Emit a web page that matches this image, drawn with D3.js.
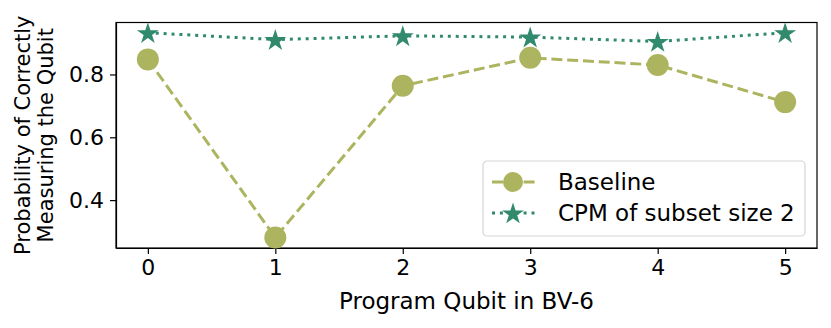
<!doctype html>
<html>
<head>
  <meta charset="utf-8" />
  <script src="https://cdnjs.cloudflare.com/ajax/libs/d3/7.8.5/d3.min.js"></script>
  <style>
  body{
    margin: 0;
    background: #fff;
    font-family: "DejaVu Sans", sans-serif;
  }
  .axis text{
    font-family: "DejaVu Sans", sans-serif;
    font-size: 22px;
    fill: #000;
  }
  .axis path, .axis line{
    stroke: #000;
    stroke-width: 1.2;
  }
  .lbl{
    font-size: 23px;
    fill: #000;
  }
  .ylbl{
    font-size: 21px;
    fill: #000;
  }
  </style>
</head>
<body>
  <div id="chart"></div>
  <script>
  // data
  var qubits = [0, 1, 2, 3, 4, 5];
  var baseline = [0.848, 0.281, 0.764, 0.853, 0.830, 0.712];
  var cpm = [0.933, 0.911, 0.923, 0.919, 0.905, 0.933];
  var yTicks = [0.4, 0.6, 0.8];
  var seriesNames = ["Baseline", "CPM of subset size 2"];

  var colBase = "#adb45f", colCpm = "#318a6d";

  var width = 831, height = 328;
  var margin = {left: 116, right: 14, top: 22.5, bottom: 80};

  var svg = d3.select("#chart").append("svg")
    .attr("width", width)
    .attr("height", height);

  var x = d3.scaleLinear()
    .domain([-0.25, 5.25])
    .range([margin.left, width - margin.right]);
  var y = d3.scaleLinear()
    .domain([0.2475, 0.9655])
    .range([height - margin.bottom, margin.top]);

  // axes
  svg.append("g")
    .attr("class", "axis")
    .attr("transform", "translate(0," + (height - margin.bottom) + ")")
    .call(d3.axisBottom(x).tickValues(qubits).tickFormat(d3.format("d")).tickSize(6).tickPadding(5).tickSizeOuter(0));
  svg.append("g")
    .attr("class", "axis")
    .attr("transform", "translate(" + margin.left + ",0)")
    .call(d3.axisLeft(y).tickValues(yTicks).tickFormat(d3.format(".1f")).tickSize(6).tickPadding(6).tickSizeOuter(0));

  // frame
  svg.append("rect")
    .attr("x", margin.left).attr("y", margin.top)
    .attr("width", width - margin.right - margin.left)
    .attr("height", height - margin.bottom - margin.top)
    .attr("fill", "none").attr("stroke", "#000").attr("stroke-width", 1.2);

  var line = d3.line()
    .x(function(d, i){ return x(qubits[i]); })
    .y(function(d){ return y(d); });

  var star = d3.symbol().type(d3.symbolStar).size(150);
  var dashBase = "11,4.8", dashCpm = "3,4.9";

  // baseline
  svg.append("path")
    .datum(baseline)
    .attr("d", line)
    .attr("fill", "none")
    .attr("stroke", colBase)
    .attr("stroke-width", 3)
    .attr("stroke-dasharray", dashBase);
  svg.selectAll(".dot")
    .data(baseline)
    .enter().append("circle")
    .attr("cx", function(d, i){ return x(qubits[i]); })
    .attr("cy", function(d){ return y(d); })
    .attr("r", 11)
    .attr("fill", colBase);

  // cpm
  svg.append("path")
    .datum(cpm)
    .attr("d", line)
    .attr("fill", "none")
    .attr("stroke", colCpm)
    .attr("stroke-width", 3)
    .attr("stroke-dasharray", dashCpm);
  svg.selectAll(".star")
    .data(cpm)
    .enter().append("path")
    .attr("d", star)
    .attr("transform", function(d, i){ return "translate(" + x(qubits[i]) + "," + (y(d) + 1) + ")"; })
    .attr("fill", colCpm);

  // axis labels
  svg.append("text")
    .attr("class", "lbl")
    .attr("x", (margin.left + width - margin.right) / 2)
    .attr("y", 309)
    .attr("text-anchor", "middle")
    .text("Program Qubit in BV-6");

  var yl = svg.append("text")
    .attr("class", "ylbl")
    .attr("text-anchor", "middle")
    .attr("transform", "translate(0," + ((margin.top + height - margin.bottom) / 2) + ") rotate(-90)");
  yl.append("tspan").attr("x", 0).attr("y", 30).text("Probability of Correctly");
  yl.append("tspan").attr("x", 0).attr("y", 53).text("Measuring the Qubit");

  // legend
  var lg = svg.append("g").attr("transform", "translate(483,161)");
  lg.append("rect")
    .attr("width", 322).attr("height", 75)
    .attr("rx", 4)
    .attr("fill", "#fff").attr("fill-opacity", 0.8)
    .attr("stroke", "#d6d6d6").attr("stroke-width", 1.2);

  var rows = [
    {name: seriesNames[0], color: colBase, dash: dashBase, mark: "circle"},
    {name: seriesNames[1], color: colCpm, dash: dashCpm, mark: "star"}
  ];
  rows.forEach(function(r, i){
    var yy = 21 + i * 31;
    lg.append("line")
      .attr("x1", 9).attr("x2", 55).attr("y1", yy).attr("y2", yy)
      .attr("stroke", r.color).attr("stroke-width", 3)
      .attr("stroke-dasharray", r.dash);
    if (r.mark == "circle"){
      lg.append("circle").attr("cx", 30).attr("cy", yy).attr("r", 10).attr("fill", r.color);
    } else {
      lg.append("path").attr("d", star).attr("transform", "translate(30," + (yy + 1) + ")").attr("fill", r.color);
    }
    lg.append("text")
      .attr("class", "lbl")
      .attr("x", 75).attr("y", yy + 8)
      .text(r.name);
  });
  </script>
</body>
</html>
